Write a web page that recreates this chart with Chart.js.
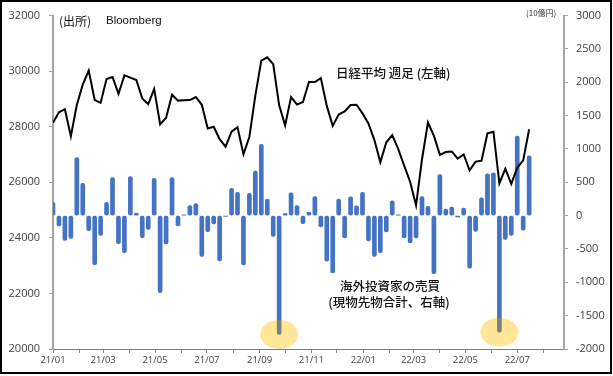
<!DOCTYPE html>
<html>
<head>
<meta charset="utf-8">
<script src="https://cdn.jsdelivr.net/npm/chart.js@4.4.1/dist/chart.umd.min.js"></script>
<style>
  html, body { margin: 0; padding: 0; background: #fff; }
  #wrap { width: 613px; height: 376px; position: relative; }
</style>
</head>
<body>
<div id="wrap"><canvas id="chart"></canvas></div>
<script>
// weekly data, first week = 21/01 on the axis, 81 weeks
const startDate = Date.UTC(2021, 0, 1);

// 日経平均 週足 (left axis)
const nikkei = [
    28140, 28520, 28630, 27660, 28780, 29520, 30020, 28970, 28860, 29720,
    29790, 29180, 29850, 29770, 29680, 29020, 28810, 29360, 28090, 28320,
    29150, 28940, 28950, 28960, 29070, 28790, 27940, 28000, 27550, 27280,
    27820, 27980, 27010, 27640, 29130, 30380, 30500, 30250, 28770, 28050,
    29070, 28800, 28890, 29610, 29610, 29750, 28750, 28030, 28440, 28550,
    28780, 28790, 28480, 28120, 27520, 26720, 27440, 27700, 27200, 26600,
    26020, 25170, 26830, 28150, 27670, 26990, 27090, 27110, 26850, 27000,
    26430, 26740, 26780, 27760, 27820, 25960, 26490, 25940, 26520, 26790,
    27910
];

// 海外投資家の売買 (10億円, right axis)
const foreignFlow = [
    200, -155, -370, -340, 870, 485, -225, -735, -295, 200,
    570, -420, -555, 585, 35, -330, -205, 560, -1155, -425,
    570, -155, 12, 150, 180, -610, -240, -125, -680, -12,
    408, 348, -738, 335, 667, 1070, 250, -313, -1781, 30,
    343, 150, -122, 50, 287, -170, -683, -858, 247, -336,
    281, 147, 350, -380, -612, -555, -246, 222, 12, -336,
    -410, -335, 284, 140, -870, 617, 98, 127, -20, 112,
    -788, -236, 266, 627, 642, -1748, -358, -297, 1194, -219,
    896
];

const highlightWeeks = [38, 75];

const leftTicks = [20000, 32000, 2000];
const rightTicks = [-2000, 3000, 500];

// month ticks 21/01 .. 22/08, labels every other month
const monthDays = [];
const monthLabels = [];
for (let m = 0; m < 20; m++) {
    const d = Date.UTC(2021, m, 1);
    monthDays.push((d - startDate) / 864e5);
    const yy = 21 + Math.floor(m / 12);
    const mm = (m % 12) + 1;
    monthLabels.push(m % 2 === 0 ? `${yy}/${String(mm).padStart(2, '0')}` : '');
}

const weekX = (i) => i * 7;

const axisText = '#404040';
const barBlue = '#4472C4';

const extras = {
    id: 'extras',
    afterDatasetsDraw(chart) {
        const { ctx, scales } = chart;
        highlightWeeks.forEach((i) => {
            const cx = scales.x.getPixelForValue(weekX(i));
            const cy = scales.y1.getPixelForValue(foreignFlow[i]);
            ctx.save();
            ctx.beginPath();
            ctx.ellipse(cx, cy, 19, 14.5, 0, 0, Math.PI * 2);
            ctx.clip();
            ctx.globalCompositeOperation = 'source-atop';
            ctx.fillStyle = 'rgba(128,130,118,0.9)';
            ctx.fillRect(cx - 20, cy - 16, 40, 32);
            ctx.globalCompositeOperation = 'destination-over';
            ctx.fillStyle = '#FFE699';
            ctx.fillRect(cx - 20, cy - 16, 40, 32);
            ctx.restore();
        });
    },
    afterDraw(chart) {
        const { ctx } = chart;
        ctx.save();
        ctx.fillStyle = '#111';
        ctx.textBaseline = 'middle';
        ctx.textAlign = 'left';
        ctx.font = '12px "Noto Sans CJK JP"';
        ctx.fillText('(出所)', 59, 21);
        ctx.font = '11.5px "Liberation Sans"';
        ctx.fillText('Bloomberg', 106, 21);
        ctx.font = '8px "Noto Sans CJK JP"';
        ctx.fillStyle = '#333';
        ctx.fillText('(10億円)', 526, 13);
        ctx.fillStyle = '#111';
        ctx.font = '500 12.5px "Noto Sans CJK JP"';
        ctx.fillText('日経平均 週足 (左軸)', 336, 73);
        ctx.textAlign = 'center';
        ctx.fillText('海外投資家の売買', 390, 286);
        ctx.fillText('(現物先物合計、右軸)', 389, 302);
        ctx.strokeStyle = '#000';
        ctx.lineWidth = 2;
        ctx.strokeRect(1, 1, 610, 372);
        ctx.restore();
    },
};

new Chart(document.getElementById('chart'), {
    data: {
        datasets: [
            {
                type: 'line',
                label: '日経平均',
                data: nikkei.map((v, i) => ({ x: weekX(i), y: v })),
                yAxisID: 'y',
                borderColor: '#000',
                borderWidth: 2,
                pointRadius: 0,
                tension: 0,
                order: 0,
            },
            {
                type: 'bar',
                label: '海外投資家',
                data: foreignFlow.map((v, i) => ({ x: weekX(i), y: v })),
                yAxisID: 'y1',
                backgroundColor: barBlue,
                barThickness: 4,
                borderRadius: 2,
                borderSkipped: false,
                order: 1,
            },
        ],
    },
    options: {
        responsive: true,
        maintainAspectRatio: false,
        animation: false,
        layout: { padding: { top: 14, left: 0, right: 0, bottom: 0 } },
        plugins: {
            legend: { display: false },
            tooltip: { enabled: false },
        },
        scales: {
            x: {
                type: 'linear',
                min: 0,
                max: 601,
                offset: false,
                afterBuildTicks: (s) => { s.ticks = monthDays.map((v) => ({ value: v })); },
                afterFit: (s) => { s.height = 27; },
                ticks: {
                    autoSkip: false,
                    maxRotation: 0,
                    padding: 2,
                    color: axisText,
                    font: { family: 'Open Sans', size: 9.5 },
                    callback: (v, i) => monthLabels[i],
                },
                grid: { drawOnChartArea: false, tickLength: 4, color: '#808080', offset: false },
                border: { color: '#808080', width: 1 },
            },
            y: {
                position: 'left',
                min: leftTicks[0],
                max: leftTicks[1],
                afterFit: (s) => { s.width = 53; },
                ticks: {
                    stepSize: leftTicks[2],
                    padding: 9,
                    color: axisText,
                    font: { family: 'Open Sans', size: 11 },
                    callback: (v) => String(v),
                },
                grid: { drawOnChartArea: false, tickLength: 4, color: '#A6A6A6' },
                border: { color: '#A6A6A6', width: 2 },
            },
            y1: {
                position: 'right',
                min: rightTicks[0],
                max: rightTicks[1],
                afterFit: (s) => { s.width = 49; },
                ticks: {
                    stepSize: rightTicks[2],
                    padding: 8,
                    color: axisText,
                    font: { family: 'Open Sans', size: 11 },
                    callback: (v) => String(v),
                },
                grid: { drawOnChartArea: false, tickLength: 4, color: '#A6A6A6' },
                border: { color: '#A6A6A6', width: 2 },
            },
        },
    },
    plugins: [extras],
});
</script>
</body>
</html>
